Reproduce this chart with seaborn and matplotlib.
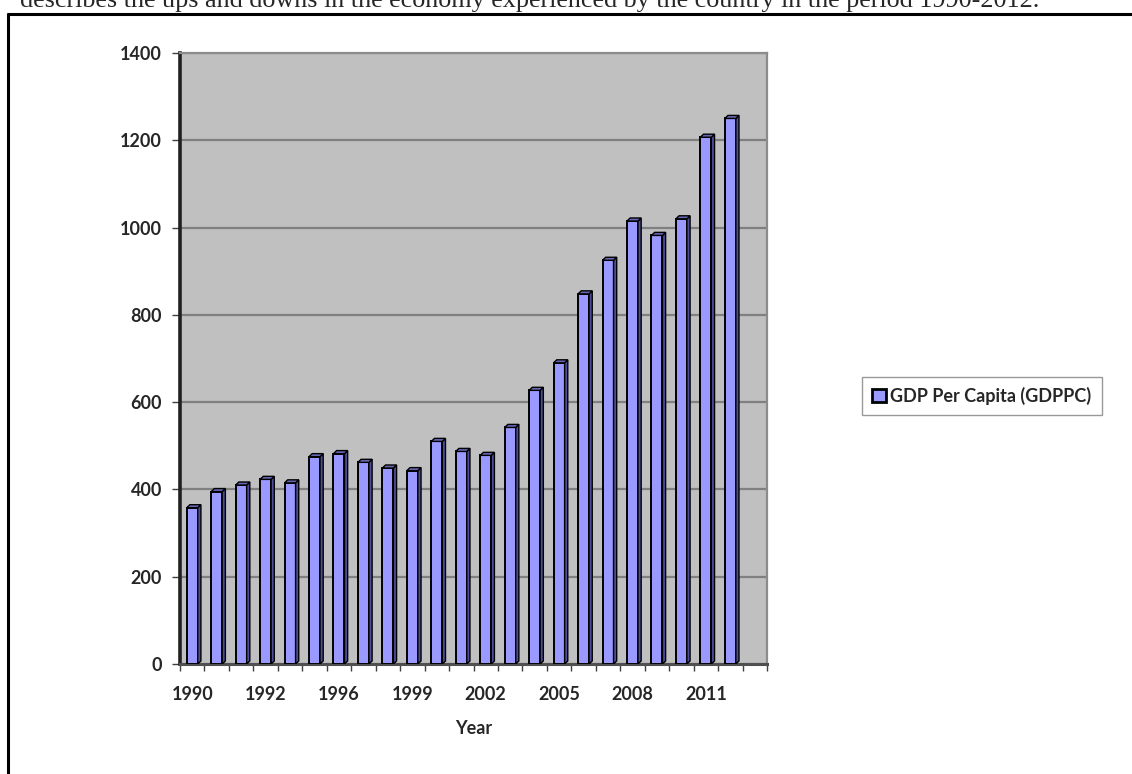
import pandas as pd
import matplotlib.pyplot as plt
import seaborn as sns
from matplotlib.patches import Polygon, Rectangle
from matplotlib.lines import Line2D

# --- data ---
years = [str(y) for y in range(1990, 2013)]
gdppc = [358, 395, 410, 423, 415, 475, 482, 462, 449, 443, 510, 487,
         478, 542, 627, 690, 848, 925, 1015, 982, 1020, 1207, 1250]
tick_pos = [0, 3, 6, 9, 12, 15, 18, 21]
tick_labels = ["1990", "1992", "1996", "1999", "2002", "2005", "2008", "2011"]
y_ticks = [0, 200, 400, 600, 800, 1000, 1200, 1400]
caption = ("describes the ups and downs in the economy experienced by the "
           "country in the period 1990-2012.")
series_name = "GDP Per Capita (GDPPC)"

df = pd.DataFrame({"Year": years, "GDPPC": gdppc})

sns.set_style("white")
plt.rcParams['font.family'] = ['Lato', 'DejaVu Sans']

W, H = 1132, 774
fig = plt.figure(figsize=(W / 100, H / 100), dpi=100)

# page text (cut off at the top, as in the source scan) and the frame
fig.text(20 / W, 1 - 7 / H, caption, family='Liberation Serif', fontsize=18.8,
         ha='left', va='baseline')
fig.add_artist(Line2D([8 / W, 8 / W], [0, 1 - 14 / H], transform=fig.transFigure,
                      color='black', lw=2.2))
fig.add_artist(Line2D([8 / W, 1], [1 - 14 / H, 1 - 14 / H], transform=fig.transFigure,
                      color='black', lw=2.2))

ax = fig.add_axes([180 / W, 1 - 664 / H, 587 / W, 611 / H])
ax.set_facecolor('#C0C0C0')

sns.barplot(data=df, x="Year", y="GDPPC", color='#9999FF', width=0.45,
            edgecolor='black', linewidth=1.4, saturation=1, ax=ax, zorder=3)

ax.set_xlim(-0.45, 23.5)
ax.set_ylim(0, 1400)

# fake the excel 3d depth on each bar
dx, dy = 0.13, 7
for p in list(ax.patches):
    x0, w, h = p.get_x(), p.get_width(), p.get_height()
    x1 = x0 + w
    side = Polygon([(x1, 0), (x1 + dx, dy), (x1 + dx, h + dy), (x1, h)],
                   closed=True, facecolor='#4D4D99', edgecolor='black', lw=1.0, zorder=3)
    top = Polygon([(x0, h), (x0 + dx, h + dy), (x1 + dx, h + dy), (x1, h)],
                  closed=True, facecolor='#6666B3', edgecolor='black', lw=1.0, zorder=3)
    ax.add_patch(side)
    ax.add_patch(top)

ax.set_yticks(y_ticks)
ax.set_yticklabels([str(v) for v in y_ticks], fontsize=13, fontweight='bold')
ax.yaxis.grid(True, color='#808080', lw=1.6, zorder=0)
ax.set_axisbelow(True)
ax.tick_params(axis='y', direction='out', length=6, width=1, color='#404040', pad=7, left=True)

ax.set_xticks(tick_pos)
ax.set_xticklabels(tick_labels, fontsize=13, fontweight='bold')
ax.set_xticks([i - 0.5 for i in range(25)], minor=True)
ax.tick_params(axis='x', which='major', length=0, pad=16)
ax.tick_params(axis='x', which='minor', direction='out', length=5, width=1,
               color='#404040', bottom=True)

ax.set_xlabel("Year", fontsize=13, fontweight='bold', labelpad=12)
ax.set_ylabel("")

for s in ['top', 'right']:
    ax.spines[s].set_color('#8C8C8C')
    ax.spines[s].set_linewidth(1.6)
ax.spines['left'].set_color('#202020')
ax.spines['left'].set_linewidth(2.6)
ax.spines['bottom'].set_color('#505050')
ax.spines['bottom'].set_linewidth(2.2)

handle = Rectangle((0, 0), 1, 1, facecolor='#9999FF', edgecolor='black', lw=2.0)
leg = fig.legend([handle], [series_name], loc='center',
                 bbox_to_anchor=(982 / W, 1 - 396 / H), frameon=True, fancybox=False,
                 prop={'weight': 'bold', 'size': 13}, handlelength=0.75, handleheight=0.75,
                 handletextpad=0.25, borderpad=0.55, borderaxespad=0)
leg.get_frame().set_edgecolor('#808080')
leg.get_frame().set_linewidth(1.0)

fig.savefig("out.png", dpi=100)
